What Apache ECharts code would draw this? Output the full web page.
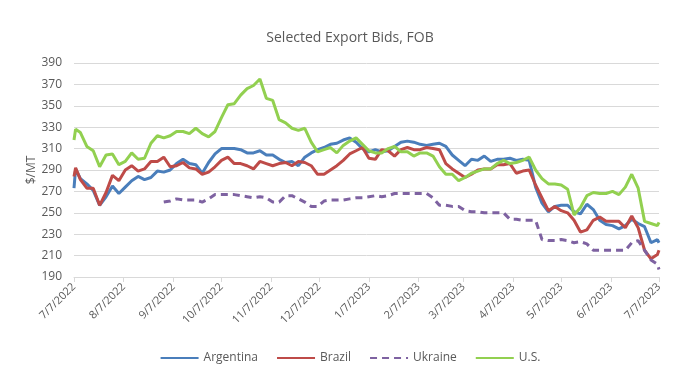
<!DOCTYPE html>
<html>
<head>
<meta charset="utf-8">
<script src="https://cdn.jsdelivr.net/npm/echarts@6/dist/echarts.min.js"></script>
<style>html,body{margin:0;padding:0;background:#fff}#c{width:700px;height:385px}</style>
</head>
<body>
<div id="c"></div>
<script>
const dates = [
 '2022-07-07','2022-07-08','2022-07-11','2022-07-15','2022-07-19','2022-07-23','2022-07-27','2022-07-31','2022-08-04','2022-08-08',
 '2022-08-12','2022-08-16','2022-08-20','2022-08-24','2022-08-28','2022-09-01','2022-09-05','2022-09-09','2022-09-13','2022-09-17',
 '2022-09-21','2022-09-25','2022-09-29','2022-10-03','2022-10-07','2022-10-11','2022-10-15','2022-10-19','2022-10-23','2022-10-27',
 '2022-10-31','2022-11-04','2022-11-08','2022-11-12','2022-11-16','2022-11-20','2022-11-24','2022-11-28','2022-12-02','2022-12-06',
 '2022-12-10','2022-12-14','2022-12-18','2022-12-22','2022-12-26','2022-12-30','2023-01-03','2023-01-07','2023-01-11','2023-01-15',
 '2023-01-19','2023-01-23','2023-01-27','2023-01-31','2023-02-04','2023-02-08','2023-02-12','2023-02-16','2023-02-20','2023-02-24',
 '2023-02-28','2023-03-04','2023-03-08','2023-03-12','2023-03-16','2023-03-20','2023-03-24','2023-03-28','2023-04-01','2023-04-05',
 '2023-04-09','2023-04-13','2023-04-17','2023-04-21','2023-04-25','2023-04-29','2023-05-03','2023-05-07','2023-05-11','2023-05-15',
 '2023-05-19','2023-05-23','2023-05-27','2023-05-31','2023-06-04','2023-06-08','2023-06-12','2023-06-16','2023-06-20','2023-06-24',
 '2023-06-28','2023-07-02','2023-07-06','2023-07-07'
];
const argentina = [
 273,291,282,277,271,257,265,275,268,274,
 280,284,281,283,289,288,290,296,300,296,
 295,287,297,305,310,310,310,309,306,306,
 308,304,304,300,297,298,294,302,306,309,
 311,314,315,318,320,316,310,307,309,307,
 308,312,316,317,316,314,313,314,315,312,
 304,299,294,300,299,303,298,300,300,301,
 299,300,299,274,259,251,256,257,257,251,
 249,258,253,243,239,238,235,238,244,240,
 237,222,225,222
];
const brazil = [
 284,292,281,273,273,257,269,285,280,290,
 294,289,291,298,298,302,293,294,297,292,
 291,286,288,293,299,302,296,296,294,291,
 298,296,294,296,297,294,298,297,294,286,
 286,290,294,299,305,308,311,301,300,309,
 308,303,309,311,309,309,311,310,309,296,
 291,287,283,286,290,291,291,295,295,296,
 287,289,290,276,264,252,256,252,250,243,
 232,234,243,246,242,242,242,236,247,236,
 215,207,211,215
];
const ukraine = [
 null,null,null,null,null,null,null,null,null,null,
 null,null,null,null,null,260,261,263,262,262,
 262,260,263,267,267,267,267,266,265,264,
 265,264,260,260,266,266,263,260,256,256,
 261,262,262,262,263,264,264,265,266,265,
 266,268,268,268,268,268,268,264,257,257,
 256,256,252,251,251,250,250,250,250,244,
 244,243,243,243,225,224,224,225,224,222,
 223,221,215,215,215,215,215,215,222,224,
 215,206,202,197
];
const us = [
 318,328,325,312,308,293,304,305,295,298,
 306,300,301,315,322,320,322,326,326,324,
 329,324,321,326,339,351,352,360,366,369,
 375,357,355,337,334,329,327,329,316,307,
 309,311,306,313,317,320,314,308,306,306,
 310,312,307,307,303,306,306,303,293,286,
 286,280,283,287,289,291,291,296,299,296,
 297,299,302,290,282,277,277,276,272,248,
 255,266,269,268,268,270,267,274,286,273,
 242,240,238,241
];
const xTicks = ['2022-07-07','2022-08-07','2022-09-07','2022-10-07','2022-11-07','2022-12-07',
 '2023-01-07','2023-02-07','2023-03-07','2023-04-07','2023-05-07','2023-06-07','2023-07-07'];
const yMin = 190, yMax = 390, yStep = 20;

const toTs = s => { const p = s.split('-'); return new Date(+p[0], +p[1]-1, +p[2]).getTime(); };
const pairs = arr => arr.map((v, i) => [toTs(dates[i]), v]);
const tickTs = xTicks.map(toTs);
const FONT = '"Open Sans", "Noto Sans", sans-serif';

const chart = echarts.init(document.getElementById('c'));
const mk = (name, data, color, dashed) => ({
  name, type: 'line', data: pairs(data), symbol: 'none', showSymbol: false,
  connectNulls: false, animation: false,
  lineStyle: { color, width: 3, type: dashed ? [7, 5] : 'solid' },
  itemStyle: { color }
});
chart.setOption({
  animation: false,
  title: { text: 'Selected Export Bids, FOB', left: 'center', top: 26,
    textStyle: { fontFamily: FONT, fontSize: 14, fontWeight: 'normal', color: '#595959' } },
  grid: { left: 74, right: 41, top: 63, bottom: 108 },
  legend: {
    bottom: 16, left: 'center', itemWidth: 38, itemHeight: 12, itemGap: 18,
    itemStyle: { opacity: 0 },
    textStyle: { fontFamily: FONT, fontSize: 12, color: '#595959' },
    data: ['Argentina', 'Brazil', 'Ukraine', 'U.S.']
  },
  xAxis: {
    type: 'value', min: tickTs[0], max: tickTs[tickTs.length - 1],
    axisLine: { lineStyle: { color: '#d9d9d9' } },
    axisTick: { show: true, length: 5, customValues: tickTs, lineStyle: { color: '#d9d9d9' } },
    splitLine: { show: false },
    axisLabel: {
      customValues: tickTs, rotate: 45, margin: 8,
      fontFamily: FONT, fontSize: 11, color: '#595959',
      formatter: v => { const d = new Date(v); return (d.getMonth()+1) + '/' + d.getDate() + '/' + d.getFullYear(); }
    }
  },
  yAxis: {
    type: 'value', min: yMin, max: yMax, interval: yStep,
    name: '$/MT', nameLocation: 'middle', nameGap: 36, nameMoveOverlap: false,
    nameTextStyle: { fontFamily: FONT, fontSize: 12, color: '#595959' },
    axisLine: { show: false }, axisTick: { show: false },
    axisLabel: { fontFamily: FONT, fontSize: 12, color: '#595959', margin: 12 },
    splitLine: { lineStyle: { color: '#d9d9d9', width: 1 } }
  },
  series: [
    mk('Argentina', argentina, '#4a7ebb'),
    mk('Brazil', brazil, '#be4b48'),
    mk('Ukraine', ukraine, '#7e62a1', true),
    mk('U.S.', us, '#92d050')
  ]
});
</script>
</body>
</html>
